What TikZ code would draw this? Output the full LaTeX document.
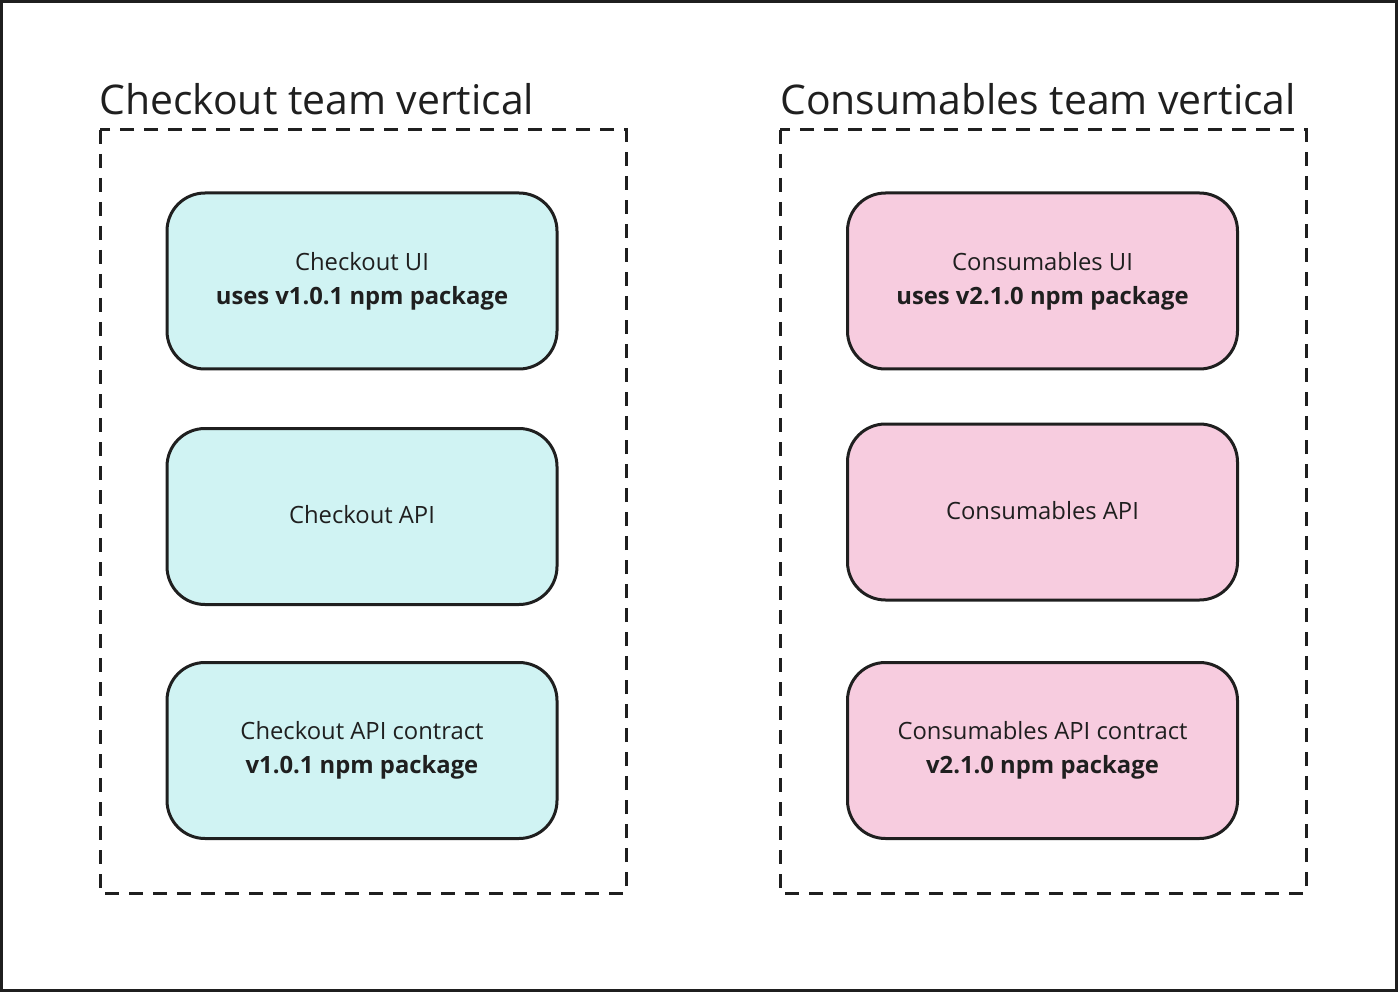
\documentclass[tikz,border=0pt]{standalone}
\usepackage{fontspec}
\setmainfont{Open Sans}
\begin{document}
\begin{tikzpicture}[x=1pt,y=-1pt,
  frame/.style={draw=black!88,line width=3pt},
  group/.style={draw=black!88,line width=3pt,dash pattern=on 14pt off 10pt},
  title/.style={anchor=base west,inner sep=0pt,text=black!88,font={\fontsize{40.9}{50}\selectfont}},
  card/.style={draw=black!88,line width=3pt,rounded corners=38pt,minimum width=390pt,minimum height=176pt,align=center,text=black!88,font={\fontsize{23.8}{34}\selectfont},inner sep=0pt},
  cyanc/.style={card,fill=cyanfill},
  pinkc/.style={card,fill=pinkfill},
  lift/.style={text depth=4pt}]
\definecolor{cyanfill}{HTML}{D0F3F3}
\definecolor{pinkfill}{HTML}{F7CCDF}
\useasboundingbox (0,0) rectangle (1398,992);
\draw[frame] (1.5,1.5) rectangle (1396.5,990.5);
% groups
\node[title] (t1) at (99,115) {Checkout team vertical};
\node[title] (t2) at (780,115) {Consumables team vertical};
\draw[group] (100,130) rectangle (626,893);
\draw[group] (780,130) rectangle (1306,893);
% left cards
\node[cyanc] (cui) at (362,281) {Checkout UI\\\textbf{uses v1.0.1 npm package}};
\node[cyanc,lift] (capi) at (362,516.5) {Checkout API};
\node[cyanc] (ccon) at (362,750.5) {Checkout API contract\\\textbf{v1.0.1 npm package}};
% right cards
\node[pinkc] (sui) at (1042.5,281) {Consumables UI\\\textbf{uses v2.1.0 npm package}};
\node[pinkc,lift] (sapi) at (1042.5,512) {Consumables API};
\node[pinkc] (scon) at (1042.5,750.5) {Consumables API contract\\\textbf{v2.1.0 npm package}};
\end{tikzpicture}
\end{document}
